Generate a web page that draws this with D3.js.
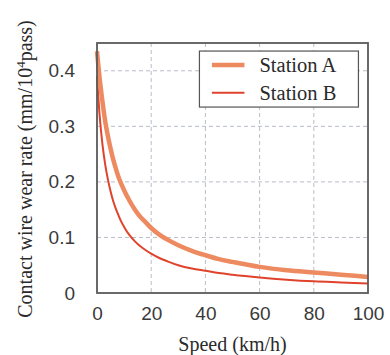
<!DOCTYPE html>
<html>
<head>
<meta charset="utf-8">
<script src="https://cdn.jsdelivr.net/npm/d3@7"></script>
</head>
<body style="margin:0">
<svg id="chart" width="390" height="355"></svg>
<script>
// Wear rate of the contact wire versus train speed at two stations
const speeds   = [0, 1, 2, 3, 4, 5, 6, 7, 8, 9, 10, 12, 14, 16, 18, 20, 23, 26, 30, 35, 40, 45, 50, 60, 70, 80, 90, 100];
const stationA = [0.435, 0.385, 0.345, 0.31, 0.283, 0.26, 0.24, 0.223, 0.208, 0.196, 0.185, 0.166, 0.150, 0.137, 0.127, 0.117, 0.105, 0.096, 0.086, 0.076, 0.068, 0.061, 0.056, 0.047, 0.041, 0.037, 0.033, 0.029];
const stationB = [0.39, 0.318, 0.268, 0.232, 0.205, 0.183, 0.165, 0.151, 0.139, 0.128, 0.119, 0.104, 0.093, 0.084, 0.077, 0.071, 0.063, 0.057, 0.050, 0.044, 0.040, 0.036, 0.033, 0.028, 0.024, 0.021, 0.019, 0.017];
const seriesNames = ["Station A", "Station B"];
const xTicks = [0, 20, 40, 60, 80, 100];
const yTicks = [0, 0.1, 0.2, 0.3, 0.4];

const svg = d3.select("#chart");
const m = { left: 97, top: 43, right: 22, bottom: 62 };
const W = 390 - m.left - m.right;
const H = 355 - m.top - m.bottom;

const x = d3.scaleLinear().domain([0, 100]).range([0, W]);
const y = d3.scaleLinear().domain([0, 0.45]).range([H, 0]);

const g = svg.append("g").attr("transform", `translate(${m.left},${m.top})`);

// dashed grid
g.append("g").selectAll("line").data(xTicks.slice(1, -1)).join("line")
  .attr("x1", d => x(d)).attr("x2", d => x(d)).attr("y1", 0).attr("y2", H)
  .attr("stroke", "#b9bdc9").attr("stroke-width", 1).attr("stroke-dasharray", "4,3");
g.append("g").selectAll("line").data(yTicks.slice(1)).join("line")
  .attr("y1", d => y(d)).attr("y2", d => y(d)).attr("x1", 0).attr("x2", W)
  .attr("stroke", "#b9bdc9").attr("stroke-width", 1).attr("stroke-dasharray", "4,3");

// axes (labels only, no tick marks)
const xAxis = g.append("g").attr("transform", `translate(0,${H})`)
  .call(d3.axisBottom(x).tickValues(xTicks).tickSize(0).tickPadding(14).tickFormat(d3.format("d")));
const yAxis = g.append("g")
  .call(d3.axisLeft(y).tickValues(yTicks).tickSize(0).tickPadding(22).tickFormat(d => d === 0 ? "0" : d3.format(".1f")(d)));
[xAxis, yAxis].forEach(a => {
  a.select(".domain").remove();
  a.attr("font-family", null).attr("font-size", null);
  a.selectAll("text").style("font-family", "Liberation Sans")
    .attr("font-size", 19).attr("fill", "#3a3a3a");
});

// curves
const line = d3.line().x((d, i) => x(speeds[i])).y(d => y(d)).curve(d3.curveMonotoneX);
g.append("path").datum(stationB).attr("d", line)
  .attr("fill", "none").attr("stroke", "#e0432c").attr("stroke-width", 2);
g.append("path").datum(stationA).attr("d", line)
  .attr("fill", "none").attr("stroke", "#ee8a60").attr("stroke-width", 4.5);

// frame
g.append("rect").attr("x", 0).attr("y", 0).attr("width", W).attr("height", H)
  .attr("fill", "none").attr("stroke", "#5a5a5a").attr("stroke-width", 1.8);

// legend
const lg = g.append("g").attr("transform", `translate(${x(37.8)},${y(0.4355)})`);
lg.append("rect").attr("width", 159).attr("height", 56)
  .attr("fill", "#fff").attr("stroke", "#555").attr("stroke-width", 1.2);
const legendColors = ["#ee8a60", "#e0432c"];
const legendWidths = [4.5, 2];
seriesNames.forEach((name, i) => {
  const yy = 14 + i * 27.7;
  lg.append("line").attr("x1", 12.5).attr("x2", 45).attr("y1", yy).attr("y2", yy)
    .attr("stroke", legendColors[i]).attr("stroke-width", legendWidths[i]);
  lg.append("text").attr("x", 60).attr("y", yy + 7).text(name)
    .style("font-family", "Liberation Serif")
    .attr("font-size", 20.5).attr("fill", "#2a2a2a");
});

// axis titles
svg.append("text").attr("x", m.left + W / 2).attr("y", 351).attr("text-anchor", "middle")
  .style("font-family", "Liberation Serif")
  .attr("font-size", 20).attr("fill", "#2a2a2a").text("Speed (km/h)");

const yt = svg.append("text")
  .attr("transform", "translate(32,169) rotate(-90)")
  .attr("text-anchor", "middle")
  .style("font-family", "Liberation Serif")
  .attr("font-size", 20).attr("fill", "#2a2a2a");
yt.append("tspan").text("Contact wire wear rate (mm/10");
yt.append("tspan").attr("dy", -7).attr("font-size", 13).text("4");
yt.append("tspan").attr("dy", 7).text("pass)");
</script>
</body>
</html>
